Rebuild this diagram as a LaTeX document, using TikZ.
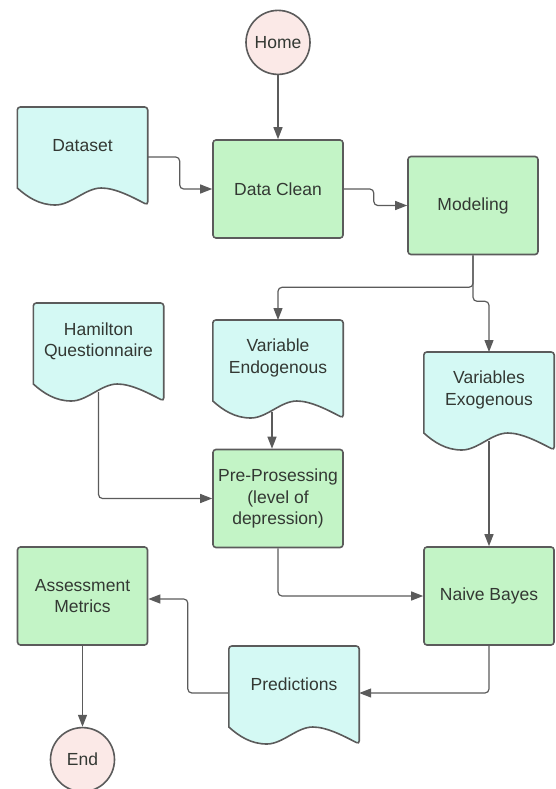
\documentclass[tikz,border=0pt]{standalone}
\usepackage{fontspec}
\setmainfont{Liberation Sans}
\usepackage{xcolor}
\usepackage{tikz}
\usetikzlibrary{positioning,calc,arrows.meta,backgrounds}

\definecolor{procgreen}{HTML}{C3F4C6}
\definecolor{doccyan}{HTML}{D4F9F4}
\definecolor{termpink}{HTML}{FBE9E7}
\definecolor{linegray}{HTML}{5B5B5B}
\definecolor{textgray}{HTML}{333833}

\newcommand{\docshape}[1]{%
  \filldraw[fill=doccyan, draw=linegray, line width=1.6pt, rounded corners=3pt]
    ($(#1.north west)+(0,-81)$) -- (#1.north west) -- (#1.north east)
    -- ($(#1.north east)+(0,-98)$) [sharp corners]
    .. controls ($(#1.north west)+(115,-90)$) and ($(#1.north west)+(98,-81)$) .. ($(#1.north west)+(84,-81)$)
    .. controls ($(#1.north west)+(68,-81)$) and ($(#1.north west)+(54,-98)$) .. ($(#1.north west)+(38,-98)$)
    .. controls ($(#1.north west)+(22,-98)$) and ($(#1.north west)+(10,-90)$) .. cycle;}

\begin{document}
\begin{tikzpicture}[x=1pt, y=1pt,
    every node/.style={font=\fontsize{17.5}{21.7}\selectfont, text=textgray},
    process/.style={rectangle, draw=linegray, fill=procgreen, line width=1.6pt, rounded corners=3pt,
                    minimum width=130pt, minimum height=98pt, inner sep=2pt, align=center},
    docbox/.style={rectangle, minimum width=130pt, minimum height=76pt, inner sep=2pt, align=center, anchor=north},
    terminal/.style={circle, draw=linegray, fill=termpink, line width=1.6pt, minimum size=64pt, inner sep=0pt},
    flow/.style={draw=linegray, line width=1.2pt, rounded corners=4pt, -{Triangle[length=12pt, width=9pt]}}]
        \useasboundingbox (0,0) rectangle (555,-789);
        \node[process] (clean) at (278,-189) {Data Clean};
        \node[terminal] (home) [above = 64pt of clean] {Home};
        \node[process] (model) at (473,-205.5) {Modeling};
        \node[process] (pre) at (278,-498.5) {Pre-Prosessing\\(level of\\depression)};
        \node[process] (bayes) at (489,-596) {Naive Bayes};
        \node[process] (assess) at (82.5,-596) {Assessment\\Metrics};
        \node[terminal] (end) [below = 81pt of assess] {End};
        \node[docbox] (dataset) at (82.5,-107) {Dataset};
        \node[docbox] (hamilton) at (98.5,-303) {Hamilton\\Questionnaire};
        \node[docbox] (endo) at (278,-320) {Variable\\Endogenous};
        \node[docbox] (exo) at (489,-352) {Variables\\Exogenous};
        \node[docbox] (pred) at (294,-646) {Predictions};
        \begin{pgfonlayer}{background}
            \docshape{dataset}
            \docshape{hamilton}
            \docshape{endo}
            \docshape{exo}
            \docshape{pred}
        \end{pgfonlayer}
        \draw[flow] (home) -- (clean);
        \draw[flow] ($(dataset.north east)+(0,-50)$) -- ++(32,0) |- (clean.west);
        \draw[flow] (clean.east) -- ++(30,0) |- (model.west);
        \draw[flow] (model.south) -- ++(0,-32) -| (endo.north);
        \draw[flow] (model.south) -- ++(0,-46) -| (exo.north);
        \draw[flow] ($(hamilton.north)+(0,-89)$) |- (pre.west);
        \draw[flow] ($(endo.north)+(-6,-92)$) -- ($(pre.north)+(-6,0)$);
        \draw[flow] (pre.south) |- (bayes.west);
        \draw[flow] ($(exo.north)+(0,-89)$) -- (bayes.north);
        \draw[flow] (bayes.south) |- ($(pred.north east)+(0,-47)$);
        \draw[flow] ($(pred.north west)+(0,-47)$) -- ++(-41,0) |- ($(assess.east)+(0,-3)$);
        \draw[flow] (assess) -- (end);
    \end{tikzpicture}
\end{document}
